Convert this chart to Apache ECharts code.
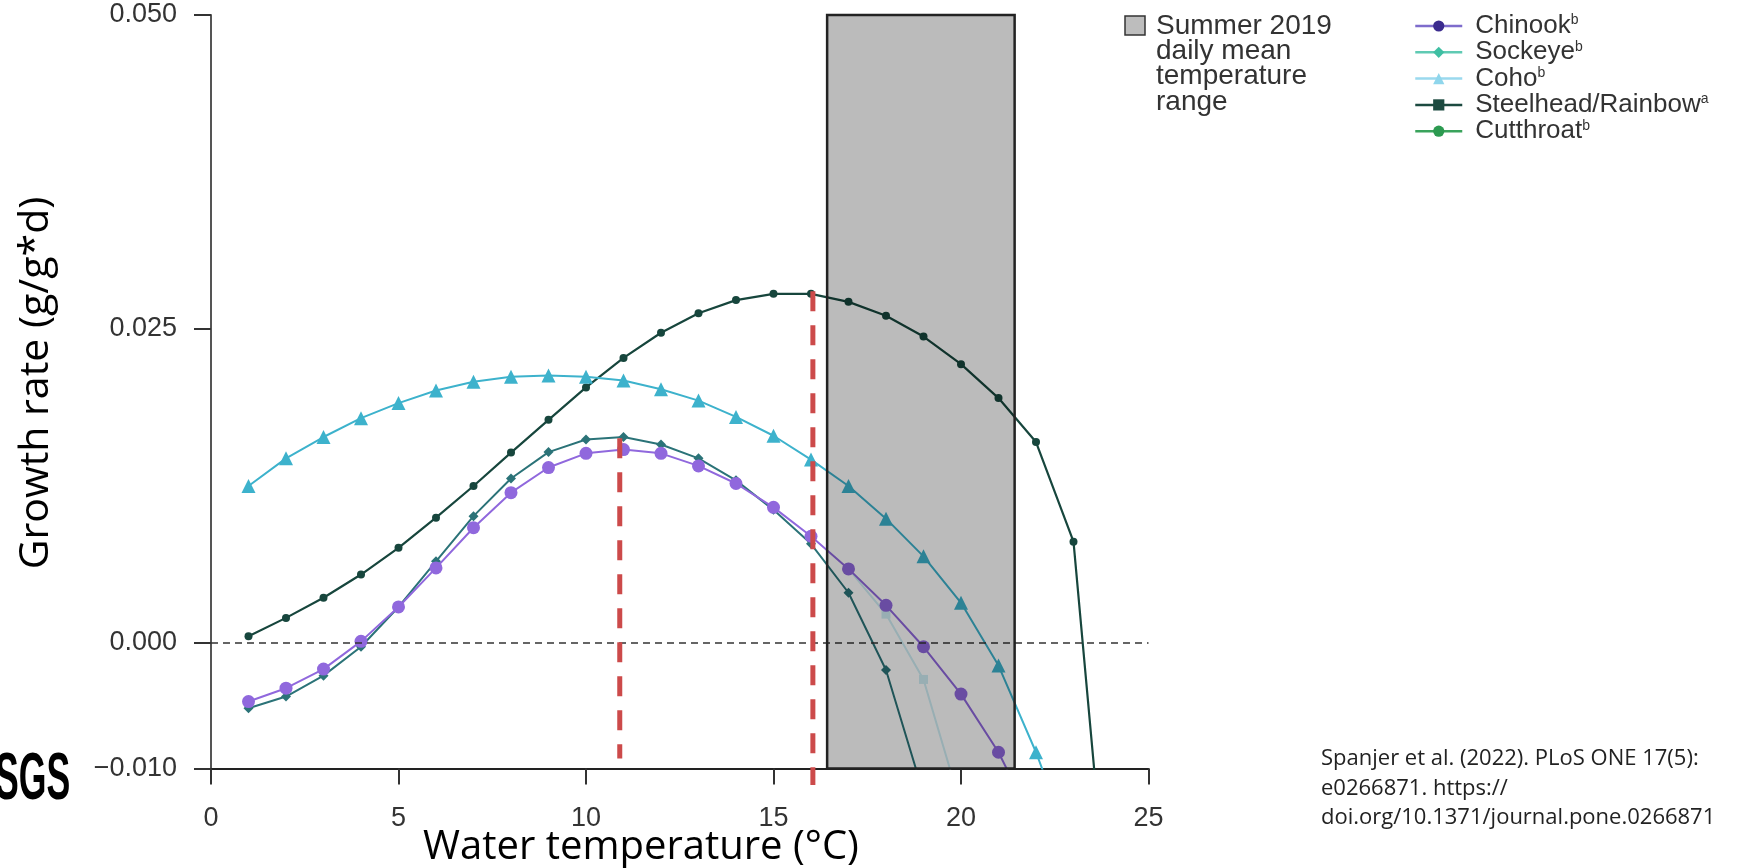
<!DOCTYPE html>
<html>
<head>
<meta charset="utf-8">
<script src="https://cdn.jsdelivr.net/npm/echarts@6/dist/echarts.min.js"></script>
<style>
html,body{margin:0;padding:0;background:#fff;}
#chart{width:1748px;height:868px;}
</style>
</head>
<body>
<div id="chart"></div>
<script>
// ---- data ----
const temps = [1,2,3,4,5,6,7,8,9,10,11,12,13,14,15,16,17,18,19,20,21,22,23,24];
const chinook   = [-0.00466,-0.0036,-0.00208,0.00013,0.00287,0.00598,0.00918,0.01197,0.01397,0.0151,0.0154,0.0151,0.0141,0.0127,0.0108,0.0085,0.0059,0.0030,-0.0003,-0.00407,-0.0087,-0.0147];
const sockeye   = [-0.00519,-0.00426,-0.0026,-0.0003,0.00287,0.0065,0.0101,0.0131,0.0152,0.0162,0.0164,0.0158,0.0147,0.01295,0.0106,0.0079,0.0040,-0.00215,-0.0120];
const coho      = [0.0125,0.0147,0.0164,0.0179,0.0191,0.0201,0.0208,0.0212,0.0213,0.0212,0.0209,0.0202,0.0193,0.0180,0.0165,0.0146,0.0125,0.0099,0.0069,0.0032,-0.0018,-0.0087,-0.0167];
const steelhead = [null,null,null,null,null,null,null,null,null,null,null,null,null,null,null,null,0.0059,0.0023,-0.0029,-0.0130];
const cutthroat = [0.00053,0.0020,0.0036,0.00545,0.00758,0.00998,0.0125,0.01516,0.01777,0.02035,0.0227,0.0247,0.02626,0.0273,0.0278,0.0278,0.02716,0.02605,0.0244,0.0222,0.0195,0.0160,0.00807,-0.0248];
const summerRange = [16.43, 21.43];
const summerRateSpan = [-0.010, 0.050];
const optimaTemps = [10.9, 16.05];
const optimaTops = [0.0163, 0.0280];
const optimaBottoms = [-0.0092, -0.0113];
const xTicks = [0,5,10,15,20,25];
const yTicks = [-0.010,0.000,0.025,0.050];
const seriesNames = ['Chinook','Sockeye','Coho','Steelhead/Rainbow','Cutthroat'];
const superscripts = {'Chinook':'b','Sockeye':'b','Coho':'b','Steelhead/Rainbow':'a','Cutthroat':'b'};
const summerLegendLines = ['Summer 2019','daily mean','temperature','range'];
const citationLines = ['Spanjer et al. (2022). PLoS ONE 17(5):','e0266871. https://','doi.org/10.1371/journal.pone.0266871'];

function pairs(arr){
  const out=[];
  arr.forEach((v,i)=>{ if(v!==null && v!==undefined) out.push([temps[i], v]); });
  return out;
}

const chart = echarts.init(document.getElementById('chart'), null, {renderer:'canvas'});

const tickFont = 'Liberation Sans, Arial, sans-serif';

const legendStyles = {
  'Chinook': {item:'#3b2b8e', line:'#7e6ccc'},
  'Sockeye': {item:'#3fbfa3', line:'#5fcab3'},
  'Coho': {item:'#8fd6ec', line:'#9ad9ee'},
  'Steelhead/Rainbow': {item:'#1c4a40', line:'#1c4a40'},
  'Cutthroat': {item:'#2c9a50', line:'#3aa35c'}
};

const graphics = [];
// Summer legend key
graphics.push({type:'rect', shape:{x:1125,y:16,width:20,height:19}, style:{fill:'#bdbdbd', stroke:'#333', lineWidth:1.5}});
summerLegendLines.forEach((t,i)=>{
  graphics.push({type:'text', x:1156, y:26+i*25.3, style:{text:t, font:'28px Liberation Sans, Arial, sans-serif', fill:'#333', textAlign:'left', textVerticalAlign:'middle'}});
});
// axis titles
graphics.push({type:'text', x:36, y:383, rotation:Math.PI/2, style:{text:'Growth rate (g/g*d)', font:'41px Open Sans, Noto Sans, sans-serif', fill:'#000', textAlign:'center', textVerticalAlign:'middle'}});
graphics.push({type:'text', x:641, y:848, style:{text:'Water temperature (°C)', font:'40px Open Sans, Noto Sans, sans-serif', fill:'#000', textAlign:'center', textVerticalAlign:'middle'}});
// citation
citationLines.forEach((t,i)=>{
  graphics.push({type:'text', x:1321, y:759+i*29.5, style:{text:t, font:'22px Open Sans, Noto Sans, sans-serif', fill:'#222', textAlign:'left', textVerticalAlign:'middle'}});
});
// logo fragment
graphics.push({type:'text', x:-5, y:781, scaleX:0.54, style:{text:'SGS', font:'bold 66px Liberation Sans, Arial, sans-serif', fill:'#000', textAlign:'left', textVerticalAlign:'middle'}});

const lineSeries = [
  {name:'Steelhead/Rainbow', data:pairs(steelhead), color:'#cfeef5', symbol:'rect', size:9, lw:2, z:2},
  {name:'Cutthroat', data:pairs(cutthroat), color:'#17463d', symbol:'circle', size:8, lw:2.2, z:3},
  {name:'Coho', data:pairs(coho), color:'#3db2cc', symbol:'triangle', size:14, lw:2, z:3},
  {name:'Sockeye', data:pairs(sockeye), color:'#2b7378', symbol:'diamond', size:10, lw:2, z:3},
  {name:'Chinook', data:pairs(chinook), color:'#9068dd', symbol:'circle', size:13, lw:2, z:4}
].map(s=>({
  type:'line', name:s.name, data:s.data, symbol:s.symbol, symbolSize:s.size,
  showSymbol:true, z:s.z, clip:true, animation:false,
  lineStyle:{color:s.color, width:s.lw}, itemStyle:{color:s.color}
}));

const extraSeries = [
  {
    type:'custom', name:'summer', z:8, animation:false, silent:true, clip:false,
    encode:{x:[0,1], y:[2,3]},
    data:[[summerRange[0], summerRange[1], summerRateSpan[0], summerRateSpan[1]]],
    renderItem:(params, api)=>{
      const p0 = api.coord([api.value(0), api.value(3)]);
      const p1 = api.coord([api.value(1), api.value(2)]);
      return {type:'rect', shape:{x:p0[0], y:p0[1], width:p1[0]-p0[0], height:p1[1]-p0[1]},
        style:{fill:'rgba(0,0,0,0.265)', stroke:'#222', lineWidth:2.5}};
    }
  },
  {
    type:'line', name:'zero', data:[], z:9, animation:false, silent:true,
    markLine:{silent:true, symbol:['none','none'], label:{show:false},
      lineStyle:{color:'#333', width:1.6, type:[7,5]}, data:[{yAxis:0}]}
  }
];
optimaTemps.forEach((t,i)=>{
  extraSeries.push({
    type:'line', name:'optimum'+i, data:[[t, optimaTops[i]],[t, optimaBottoms[i]]],
    symbol:'none', clip:false, z:7, animation:false, silent:true,
    lineStyle:{color:'#cc4a4a', width:5, type:[20,14]}
  });
});

const option = {
  backgroundColor:'#fff',
  animation:false,
  grid:{left:211, top:15, width:937.5, height:753.6, containLabel:false},
  xAxis:{
    type:'value', min:0, max:25, interval:5,
    axisLine:{show:true, onZero:false, lineStyle:{color:'#222', width:2}},
    axisTick:{show:true, length:16, lineStyle:{color:'#333', width:2}, customValues:xTicks},
    axisLabel:{margin:36, fontFamily:tickFont, fontSize:27, color:'#333', customValues:xTicks},
    splitLine:{show:false}
  },
  yAxis:{
    type:'value', min:-0.010, max:0.050, interval:0.005,
    axisLine:{show:true, onZero:false, lineStyle:{color:'#555', width:2}},
    axisTick:{show:true, length:17, lineStyle:{color:'#333', width:2}, customValues:yTicks},
    axisLabel:{margin:34, fontFamily:tickFont, fontSize:27, color:'#333', customValues:yTicks,
      formatter:v=>v.toFixed(3).replace('-', '\u2212')},
    splitLine:{show:false}
  },
  legend:{
    orient:'vertical', left:1414, top:13, itemWidth:47, itemHeight:14, itemGap:0.3,
    padding:0, selectedMode:false,
    textStyle:{fontFamily:tickFont, fontSize:26, lineHeight:25, color:'#333', padding:[0,0,0,8],
      rich:{s:{fontSize:14, lineHeight:14, verticalAlign:'top', fontFamily:tickFont, color:'#333'}}},
    formatter:name=>name+'{s|'+superscripts[name]+'}',
    data:seriesNames.map(n=>({name:n, itemStyle:{color:legendStyles[n].item}, lineStyle:{color:legendStyles[n].line, width:2.5}}))
  },
  graphic:graphics,
  series:lineSeries.concat(extraSeries)
};
chart.setOption(option);
</script>
</body>
</html>
